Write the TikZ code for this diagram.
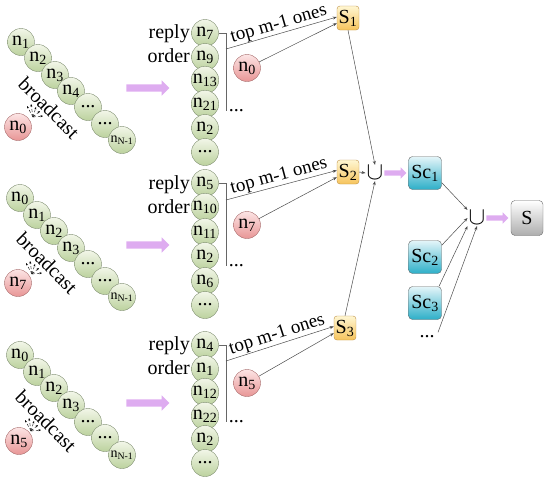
\documentclass[tikz,border=0pt]{standalone}
\usepackage{fontspec}
\setmainfont{Liberation Serif}
\newfontfamily\timesfont{Liberation Serif}
\usepackage{tikz}
\usetikzlibrary{arrows.meta,shapes.arrows}
\definecolor{greentop}{RGB}{242,246,232}
\definecolor{greenbot}{RGB}{188,210,158}
\definecolor{greenline}{RGB}{125,140,110}
\definecolor{redtop}{RGB}{252,228,228}
\definecolor{redbot}{RGB}{232,150,150}
\definecolor{redline}{RGB}{165,105,105}
\definecolor{yellowtop}{RGB}{255,246,210}
\definecolor{yellowbot}{RGB}{246,196,92}
\definecolor{yellowline}{RGB}{190,145,70}
\definecolor{cyantop}{RGB}{228,245,249}
\definecolor{cyanbot}{RGB}{45,175,200}
\definecolor{grayline}{RGB}{105,105,105}
\definecolor{lavender}{RGB}{222,172,240}

\begin{document}
\begin{tikzpicture}[x=1pt,y=-1pt,
  every node/.style={font=\timesfont\fontsize{20}{24}\selectfont},
  peer/.style={circle,draw=greenline,top color=greentop,bottom color=greenbot,
               minimum size=27pt,inner sep=0pt},
  lastpeer/.style={peer,font=\timesfont\fontsize{14}{16}\selectfont},
  sender/.style={circle,draw=redline,top color=redtop,bottom color=redbot,
                 minimum size=27pt,inner sep=0pt},
  setbox/.style={rounded corners=3pt,draw=yellowline,top color=yellowtop,
                 bottom color=yellowbot,minimum width=22pt,minimum height=24pt,inner sep=1pt},
  candbox/.style={rounded corners=4pt,draw=grayline,top color=cyantop,
                  bottom color=cyanbot,minimum width=33pt,minimum height=33pt,inner sep=1pt},
  finalbox/.style={rounded corners=4pt,draw=grayline,top color=white,
                   bottom color=black!32,minimum width=32pt,minimum height=35pt},
  union/.style={font=\fontsize{24}{24}\selectfont,inner sep=1pt},
  bigarrow/.style={single arrow,fill=lavender,draw=none,inner sep=3.5pt,
                   single arrow head extend=4pt,minimum height=43pt},
  smallarrow/.style={bigarrow,inner sep=2.5pt,single arrow head extend=3pt,minimum height=22pt},
  link/.style={draw=black!70,line width=0.5pt,-{Stealth[length=4pt,width=3pt]}},
  fan/.style={densely dashed,line width=0.4pt,-{Stealth[length=2.5pt,width=2pt]}},
  bracket/.style={draw=black!60,line width=0.5pt},
  tag/.style={align=right,anchor=east,inner sep=0pt},
  cast/.style={rotate=-45,inner sep=0pt},
  topnote/.style={sloped,above,inner sep=0.5pt,font=\timesfont\fontsize{19}{22}\selectfont}
]
\useasboundingbox (0,0) rectangle (550,485);

% Block 1
\node[peer] (a1) at (21,42) {n\textsubscript{1}};
\node[peer] (a2) at (38,58) {n\textsubscript{2}};
\node[peer] (a3) at (55,75) {n\textsubscript{3}};
\node[peer] (a4) at (71,91) {n\textsubscript{4}};
\node[peer] (a5) at (88,107) {...};
\node[peer] (a6) at (105,124) {...};
\node[lastpeer] (a7) at (122,140) {n\textsubscript{N-1}};
\node[sender] (as) at (18,127) {n\textsubscript{0}};
\node[cast] (ab) at (49,108) {broadcast};
\coordinate (af) at (33,117);
\draw[fan] (af) -- ++(-6,-11);
\draw[fan] (af) -- ++(-2,-13);
\draw[fan] (af) -- ++(3,-10);
\draw[fan] (af) -- ++(7,-6);
\draw[fan] (af) -- ++(10,-1);
\node[bigarrow] (aa) at (146,88) {};
\node[tag] (ar) at (190,44) {reply\\order};
\node[peer] (ac1) at (205,33) {n\textsubscript{7}};
\node[peer] (ac2) at (205,57) {n\textsubscript{9}};
\node[peer] (ac3) at (205,80) {n\textsubscript{13}};
\node[peer] (ac4) at (205,104) {n\textsubscript{21}};
\node[peer] (ac5) at (205,128) {n\textsubscript{2}};
\node[peer] (ac6) at (205,152) {...};
\draw[bracket] (ac1.east) -- ++(8,0) coordinate (ak) -- ++(0,78) coordinate (ae);
\node[anchor=west,inner sep=2pt] (ad) at (ae) {...};
\coordinate (at) at (226,49);
\node[setbox] (S1) at (348,18) {S\textsubscript{1}};
\node[sender] (an) at (247,68) {n\textsubscript{0}};
\draw[link] (at) -- node[topnote] {top m-1 ones} (S1.175);
\draw[link] (an) -- (S1.205);

% Block 2
\node[peer] (b1) at (20,198) {n\textsubscript{0}};
\node[peer] (b2) at (37,215) {n\textsubscript{1}};
\node[peer] (b3) at (54,231) {n\textsubscript{2}};
\node[peer] (b4) at (71,248) {n\textsubscript{3}};
\node[peer] (b5) at (88,264) {...};
\node[peer] (b6) at (105,281) {...};
\node[lastpeer] (b7) at (122,297) {n\textsubscript{N-1}};
\node[sender] (bs) at (18,283) {n\textsubscript{7}};
\node[cast] (bb) at (47,263) {broadcast};
\coordinate (bf) at (32,274);
\draw[fan] (bf) -- ++(-6,-11);
\draw[fan] (bf) -- ++(-2,-13);
\draw[fan] (bf) -- ++(3,-10);
\draw[fan] (bf) -- ++(7,-6);
\draw[fan] (bf) -- ++(10,-1);
\node[bigarrow] (ba) at (146,245) {};
\node[tag] (br) at (190,195) {reply\\order};
\node[peer] (bc1) at (205,183) {n\textsubscript{5}};
\node[peer] (bc2) at (205,207) {n\textsubscript{10}};
\node[peer] (bc3) at (205,232) {n\textsubscript{11}};
\node[peer] (bc4) at (205,256) {n\textsubscript{2}};
\node[peer] (bc5) at (205,281) {n\textsubscript{6}};
\node[peer] (bc6) at (205,305) {...};
\draw[bracket] (bc1.east) -- ++(8,0) coordinate (bk) -- ++(0,83) coordinate (be);
\node[anchor=west,inner sep=2pt] (bd) at (be) {...};
\coordinate (bt) at (226,200);
\node[setbox] (S2) at (348,172) {S\textsubscript{2}};
\node[sender] (bn) at (247,225) {n\textsubscript{7}};
\draw[link] (bt) -- node[topnote] {top m-1 ones} (S2.172);
\draw[link] (bn) -- (S2.205);

% Block 3
\node[peer] (c1) at (20,355) {n\textsubscript{0}};
\node[peer] (c2) at (37,372) {n\textsubscript{1}};
\node[peer] (c3) at (54,388) {n\textsubscript{2}};
\node[peer] (c4) at (71,405) {n\textsubscript{3}};
\node[peer] (c5) at (88,422) {...};
\node[peer] (c6) at (105,438) {...};
\node[lastpeer] (c7) at (122,455) {n\textsubscript{N-1}};
\node[sender] (cs) at (19,441) {n\textsubscript{5}};
\node[cast] (cb) at (46,421) {broadcast};
\coordinate (cf) at (31,431);
\draw[fan] (cf) -- ++(-6,-11);
\draw[fan] (cf) -- ++(-2,-13);
\draw[fan] (cf) -- ++(3,-10);
\draw[fan] (cf) -- ++(7,-6);
\draw[fan] (cf) -- ++(10,-1);
\node[bigarrow] (ca) at (146,403) {};
\node[tag] (cr) at (190,356) {reply\\order};
\node[peer] (cc1) at (205,345) {n\textsubscript{4}};
\node[peer] (cc2) at (205,369) {n\textsubscript{1}};
\node[peer] (cc3) at (205,392) {n\textsubscript{12}};
\node[peer] (cc4) at (205,416) {n\textsubscript{22}};
\node[peer] (cc5) at (205,439) {n\textsubscript{2}};
\node[peer] (cc6) at (205,463) {...};
\draw[bracket] (cc1.east) -- ++(8,0) coordinate (ck) -- ++(0,77) coordinate (ce);
\node[anchor=west,inner sep=2pt] (cd) at (ce) {...};
\coordinate (ct) at (226,361);
\node[setbox] (S3) at (345,328) {S\textsubscript{3}};
\node[sender] (cn) at (247,383) {n\textsubscript{5}};
\draw[link] (ct) -- node[topnote] {top m-1 ones} (S3.172);
\draw[link] (cn) -- (S3.205);

% Union of the S sets
\node[union] (U1) at (375,173) {$\cup$};
\draw[link] (S1.south) -- (U1.north);
\draw[link] (S2.east) -- (U1.west);
\draw[link] (S3.north) -- (U1.south);
\node[smallarrow] (ua) at (394,173) {};
\node[candbox] (Sc1) at (425,173) {Sc\textsubscript{1}};
\node[candbox] (Sc2) at (425,257) {Sc\textsubscript{2}};
\node[candbox] (Sc3) at (425,303) {Sc\textsubscript{3}};
\node (Scd) at (427,337) {...};

% Final union
\node[union] (U2) at (477,218) {$\cup$};
\draw[link] (Sc1.-30) -- (U2.north west);
\draw[link] (Sc2.35) -- (U2.west);
\draw[link] (Sc3.50) -- (U2.south west);
\draw[link] (Scd.north east) -- (U2.south);
\node[smallarrow] (ub) at (496,218) {};
\node[finalbox] (S) at (527,218) {S};
\end{tikzpicture}
\end{document}
